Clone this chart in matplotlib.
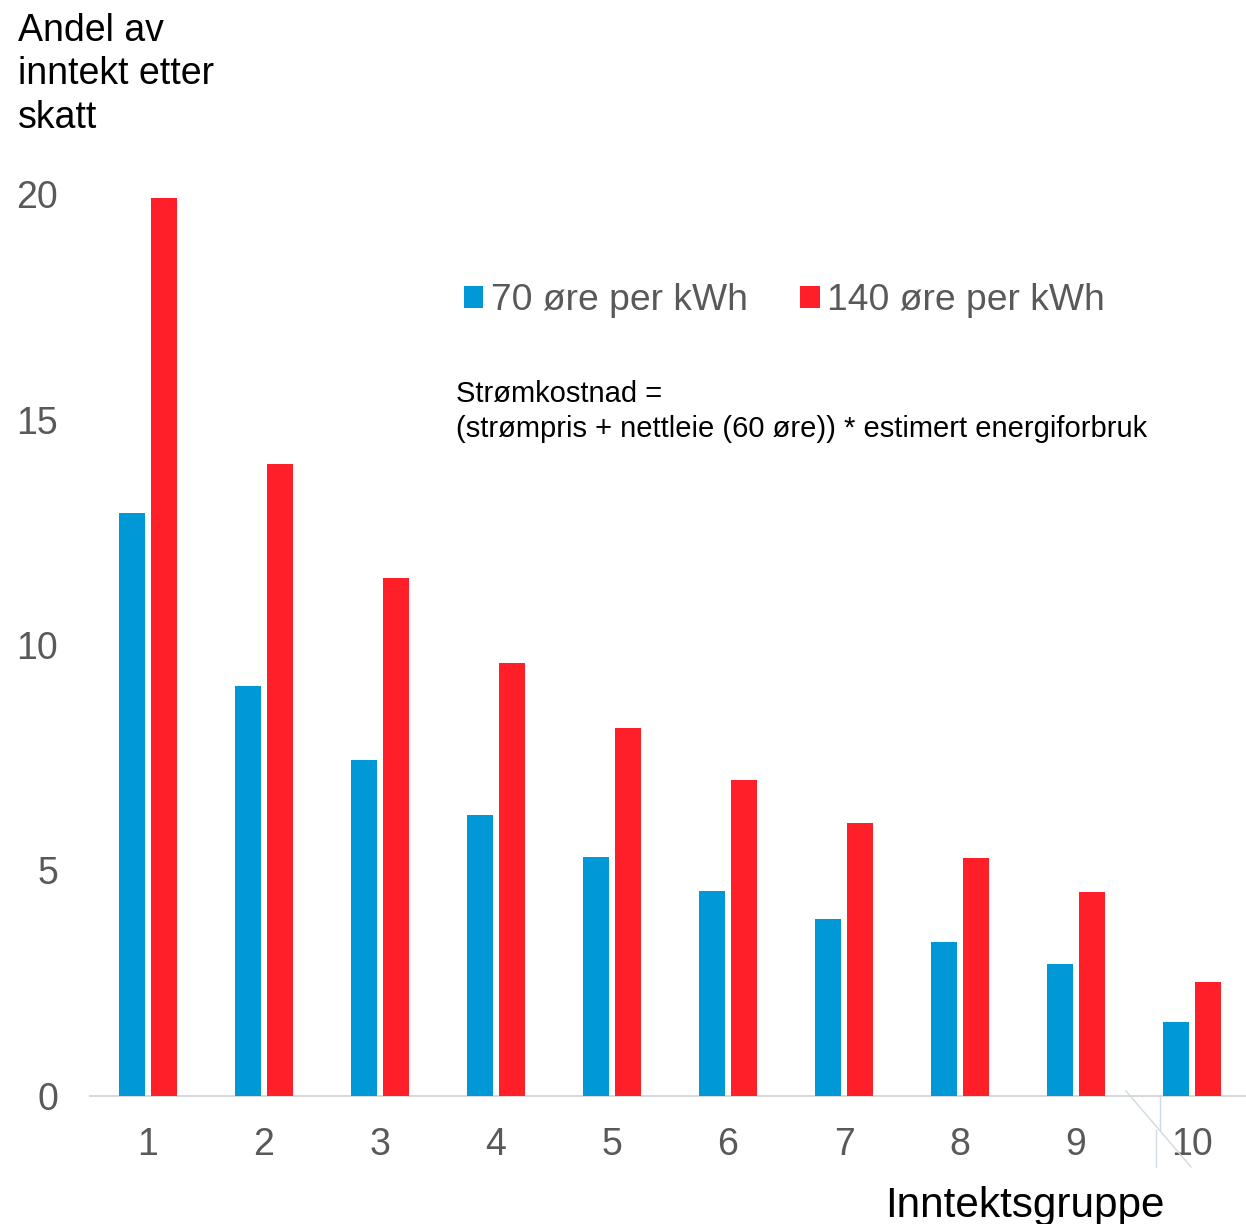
import matplotlib
matplotlib.use("Agg")
import matplotlib.pyplot as plt
from matplotlib.patches import Patch
from matplotlib.lines import Line2D
import numpy as np

plt.rcParams['font.family'] = ['Liberation Sans', 'DejaVu Sans']

categories = ['1', '2', '3', '4', '5', '6', '7', '8', '9', '10']
series_names = ['70 øre per kWh', '140 øre per kWh']
values_70 = [12.93, 9.09, 7.45, 6.23, 5.30, 4.55, 3.92, 3.41, 2.93, 1.64]
values_140 = [19.91, 14.01, 11.49, 9.60, 8.16, 7.01, 6.05, 5.28, 4.52, 2.53]
yticks = [0, 5, 10, 15, 20]
ylabel_text = 'Andel av\ninntekt etter\nskatt'
xlabel_text = 'Inntektsgruppe'
note_text = 'Strømkostnad =\n(strømpris + nettleie (60 øre)) * estimert energiforbruk'

BLUE = '#0098D6'
RED = '#FF1F29'
GRAY = '#595959'

W, H = 1246, 1224
fig = plt.figure(figsize=(W / 100, H / 100), dpi=100)

def fx(x):
    return x / W

def fy(y):
    return 1 - y / H

ax = fig.add_axes([fx(90), fy(1096), fx(1246) - fx(90), fy(194) - fy(1096)])
x = np.arange(1, len(categories) + 1)
bw = 0.224
ax.bar(x - 0.142, values_70, width=bw, color=BLUE, label=series_names[0], zorder=3)
ax.bar(x + 0.142, values_140, width=bw, color=RED, label=series_names[1], zorder=3)

ax.set_xlim(0.5, 0.5 + 1156 / 116)
ax.set_ylim(0, 20)
ax.set_yticks(yticks)
ax.set_yticklabels([str(v) for v in yticks])
ax.set_xticks(x)
ax.set_xticklabels(categories)
for s in ['top', 'right', 'left']:
    ax.spines[s].set_visible(False)
ax.spines['bottom'].set_color('#D9D9D9')
ax.spines['bottom'].set_linewidth(1.5)
ax.tick_params(axis='y', length=0, pad=23, labelsize=27, labelcolor=GRAY)
ax.tick_params(axis='x', length=0, pad=22, labelsize=27, labelcolor=GRAY)

# y-axis title (baseline of last line)
fig.text(fx(18), fy(128), ylabel_text, ha='left', va='baseline', fontsize=27,
         color='black', linespacing=1.27)
# x-axis title
fig.text(fx(885), fy(1217), xlabel_text, ha='left', va='baseline', fontsize=30.4,
         color='black')
# note (baseline of last line)
fig.text(fx(456), fy(437), note_text, ha='left', va='baseline', fontsize=21,
         color='black', linespacing=1.32)

handles = [Patch(facecolor=BLUE, edgecolor='none'), Patch(facecolor=RED, edgecolor='none')]
leg = ax.legend(handles, series_names, loc='upper left', bbox_to_anchor=(fx(464), fy(283)),
                bbox_transform=fig.transFigure, ncol=2, frameon=False, fontsize=26.8,
                handlelength=0.52, handleheight=0.52, handletextpad=0.21,
                columnspacing=1.4, borderpad=0, borderaxespad=0)
for t in leg.get_texts():
    t.set_color(GRAY)

# faint artifact lines near the last category
lc = '#CFDAE3'
fig.add_artist(Line2D([fx(1160), fx(1160)], [fy(1095), fy(1130)], color=lc, lw=1))
fig.add_artist(Line2D([fx(1156), fx(1156)], [fy(1130), fy(1167)], color=lc, lw=1))
fig.add_artist(Line2D([fx(1126), fx(1191)], [fy(1091), fy(1167)], color=lc, lw=1))

fig.savefig('out.png', dpi=100)
